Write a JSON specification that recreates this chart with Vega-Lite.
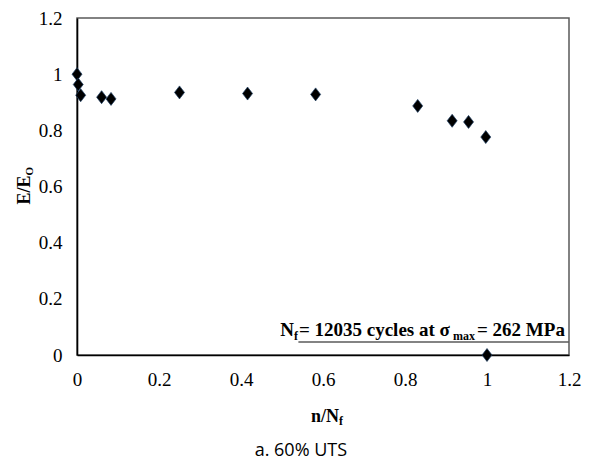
{
  "$schema": "https://vega.github.io/schema/vega-lite/v6.json",
  "width": 492,
  "height": 337,
  "autosize": {"type": "none"},
  "padding": {"left": 77, "top": 18, "right": 21, "bottom": 111},
  "background": "white",
  "config": {
    "view": {"stroke": "#5a5a5a", "strokeWidth": 1.5},
    "font": "Liberation Serif",
    "axis": {"labelFont": "Times New Roman, Liberation Serif, serif", "labelFontSize": 19, "labelColor": "#000000"}
  },
  "layer": [
    {
      "data": {"values": [
        {"nNf": 0.0, "EE0": 1.0},
        {"nNf": 0.003, "EE0": 0.963},
        {"nNf": 0.009, "EE0": 0.925},
        {"nNf": 0.06, "EE0": 0.918},
        {"nNf": 0.083, "EE0": 0.912},
        {"nNf": 0.25, "EE0": 0.935},
        {"nNf": 0.416, "EE0": 0.931},
        {"nNf": 0.582, "EE0": 0.928},
        {"nNf": 0.831, "EE0": 0.887},
        {"nNf": 0.915, "EE0": 0.834},
        {"nNf": 0.955, "EE0": 0.83},
        {"nNf": 0.997, "EE0": 0.776},
        {"nNf": 1.0, "EE0": 0.0}
      ]},
      "mark": {"type": "point", "shape": "M0,-1.3L1,0L0,1.3L-1,0Z", "size": 100, "filled": true, "fill": "#000000", "stroke": "#1d3d63", "strokeWidth": 0.7, "opacity": 1},
      "encoding": {
        "x": {"field": "nNf", "type": "quantitative", "scale": {"domain": [0, 1.2], "nice": false, "zero": true},
          "axis": {"title": null, "values": [0, 0.2, 0.4, 0.6, 0.8, 1, 1.2], "format": "~g", "grid": false, "ticks": false, "tickSize": 0, "domainColor": "#000000", "domainWidth": 1.6, "labelFont": "Times New Roman, Liberation Serif, serif", "labelFontSize": 19, "labelColor": "#000000", "labelPadding": 15, "labelFlush": false}},
        "y": {"field": "EE0", "type": "quantitative", "scale": {"domain": [0, 1.2], "nice": false, "zero": true},
          "axis": {"title": null, "values": [0, 0.2, 0.4, 0.6, 0.8, 1, 1.2], "format": "~g", "grid": false, "ticks": false, "tickSize": 0, "domainColor": "#000000", "domainWidth": 1.6, "labelFont": "Times New Roman, Liberation Serif, serif", "labelFontSize": 19, "labelColor": "#000000", "labelPadding": 15, "labelFlush": false}}
      }
    },
    {
      "data": {"values": [{}]},
      "mark": {"type": "rule", "color": "#5a5a5a", "strokeWidth": 1.5},
      "encoding": {"x": {"datum": 0.54}, "x2": {"datum": 1.2}, "y": {"datum": 0.046}}
    },
    {
      "data": {"values": [{}]},
      "mark": {"type": "text", "text": "= 262 MPa", "font": "Liberation Serif", "fontWeight": "bold", "fontSize": 19, "align": "right", "baseline": "alphabetic", "color": "#000000"},
      "encoding": {"x": {"datum": 1.19}, "y": {"datum": 0.068}}
    },
    {
      "data": {"values": [{}]},
      "mark": {"type": "text", "text": "max", "font": "Liberation Serif", "fontWeight": "bold", "fontSize": 12, "align": "right", "baseline": "alphabetic", "dx": -90, "dy": 4, "color": "#000000"},
      "encoding": {"x": {"datum": 1.19}, "y": {"datum": 0.068}}
    },
    {
      "data": {"values": [{}]},
      "mark": {"type": "text", "text": "= 12035 cycles at σ", "font": "Liberation Serif", "fontWeight": "bold", "fontSize": 19, "align": "right", "baseline": "alphabetic", "dx": -115, "color": "#000000"},
      "encoding": {"x": {"datum": 1.19}, "y": {"datum": 0.068}}
    },
    {
      "data": {"values": [{}]},
      "mark": {"type": "text", "text": "f", "font": "Liberation Serif", "fontWeight": "bold", "fontSize": 12, "align": "right", "baseline": "alphabetic", "dx": -267, "dy": 4, "color": "#000000"},
      "encoding": {"x": {"datum": 1.19}, "y": {"datum": 0.068}}
    },
    {
      "data": {"values": [{}]},
      "mark": {"type": "text", "text": "N", "font": "Liberation Serif", "fontWeight": "bold", "fontSize": 19, "align": "right", "baseline": "alphabetic", "dx": -271, "color": "#000000"},
      "encoding": {"x": {"datum": 1.19}, "y": {"datum": 0.068}}
    },
    {
      "data": {"values": [{}]},
      "mark": {"type": "text", "text": "n/N", "font": "Liberation Serif", "fontWeight": "bold", "fontSize": 18, "align": "left", "baseline": "alphabetic", "dx": -16, "color": "#000000"},
      "encoding": {"x": {"datum": 0.61}, "y": {"datum": -0.24}}
    },
    {
      "data": {"values": [{}]},
      "mark": {"type": "text", "text": "f", "font": "Liberation Serif", "fontWeight": "bold", "fontSize": 12, "align": "left", "baseline": "alphabetic", "dx": 12, "dy": 3, "color": "#000000"},
      "encoding": {"x": {"datum": 0.61}, "y": {"datum": -0.24}}
    },
    {
      "data": {"values": [{}]},
      "mark": {"type": "text", "text": "E/E", "font": "Liberation Serif", "fontWeight": "bold", "fontSize": 18, "align": "left", "baseline": "alphabetic", "angle": 270, "dx": -18, "color": "#000000"},
      "encoding": {"x": {"datum": -0.115}, "y": {"datum": 0.6}}
    },
    {
      "data": {"values": [{}]},
      "mark": {"type": "text", "text": "O", "font": "Liberation Serif", "fontWeight": "bold", "fontSize": 11, "align": "left", "baseline": "alphabetic", "angle": 270, "dx": 11, "dy": 3, "color": "#000000"},
      "encoding": {"x": {"datum": -0.115}, "y": {"datum": 0.6}}
    },
    {
      "data": {"values": [{}]},
      "mark": {"type": "text", "text": "a. 60% UTS", "font": "Open Sans", "fontSize": 18, "align": "center", "baseline": "alphabetic", "color": "#000000"},
      "encoding": {"x": {"datum": 0.546}, "y": {"datum": -0.36}}
    }
  ]
}
